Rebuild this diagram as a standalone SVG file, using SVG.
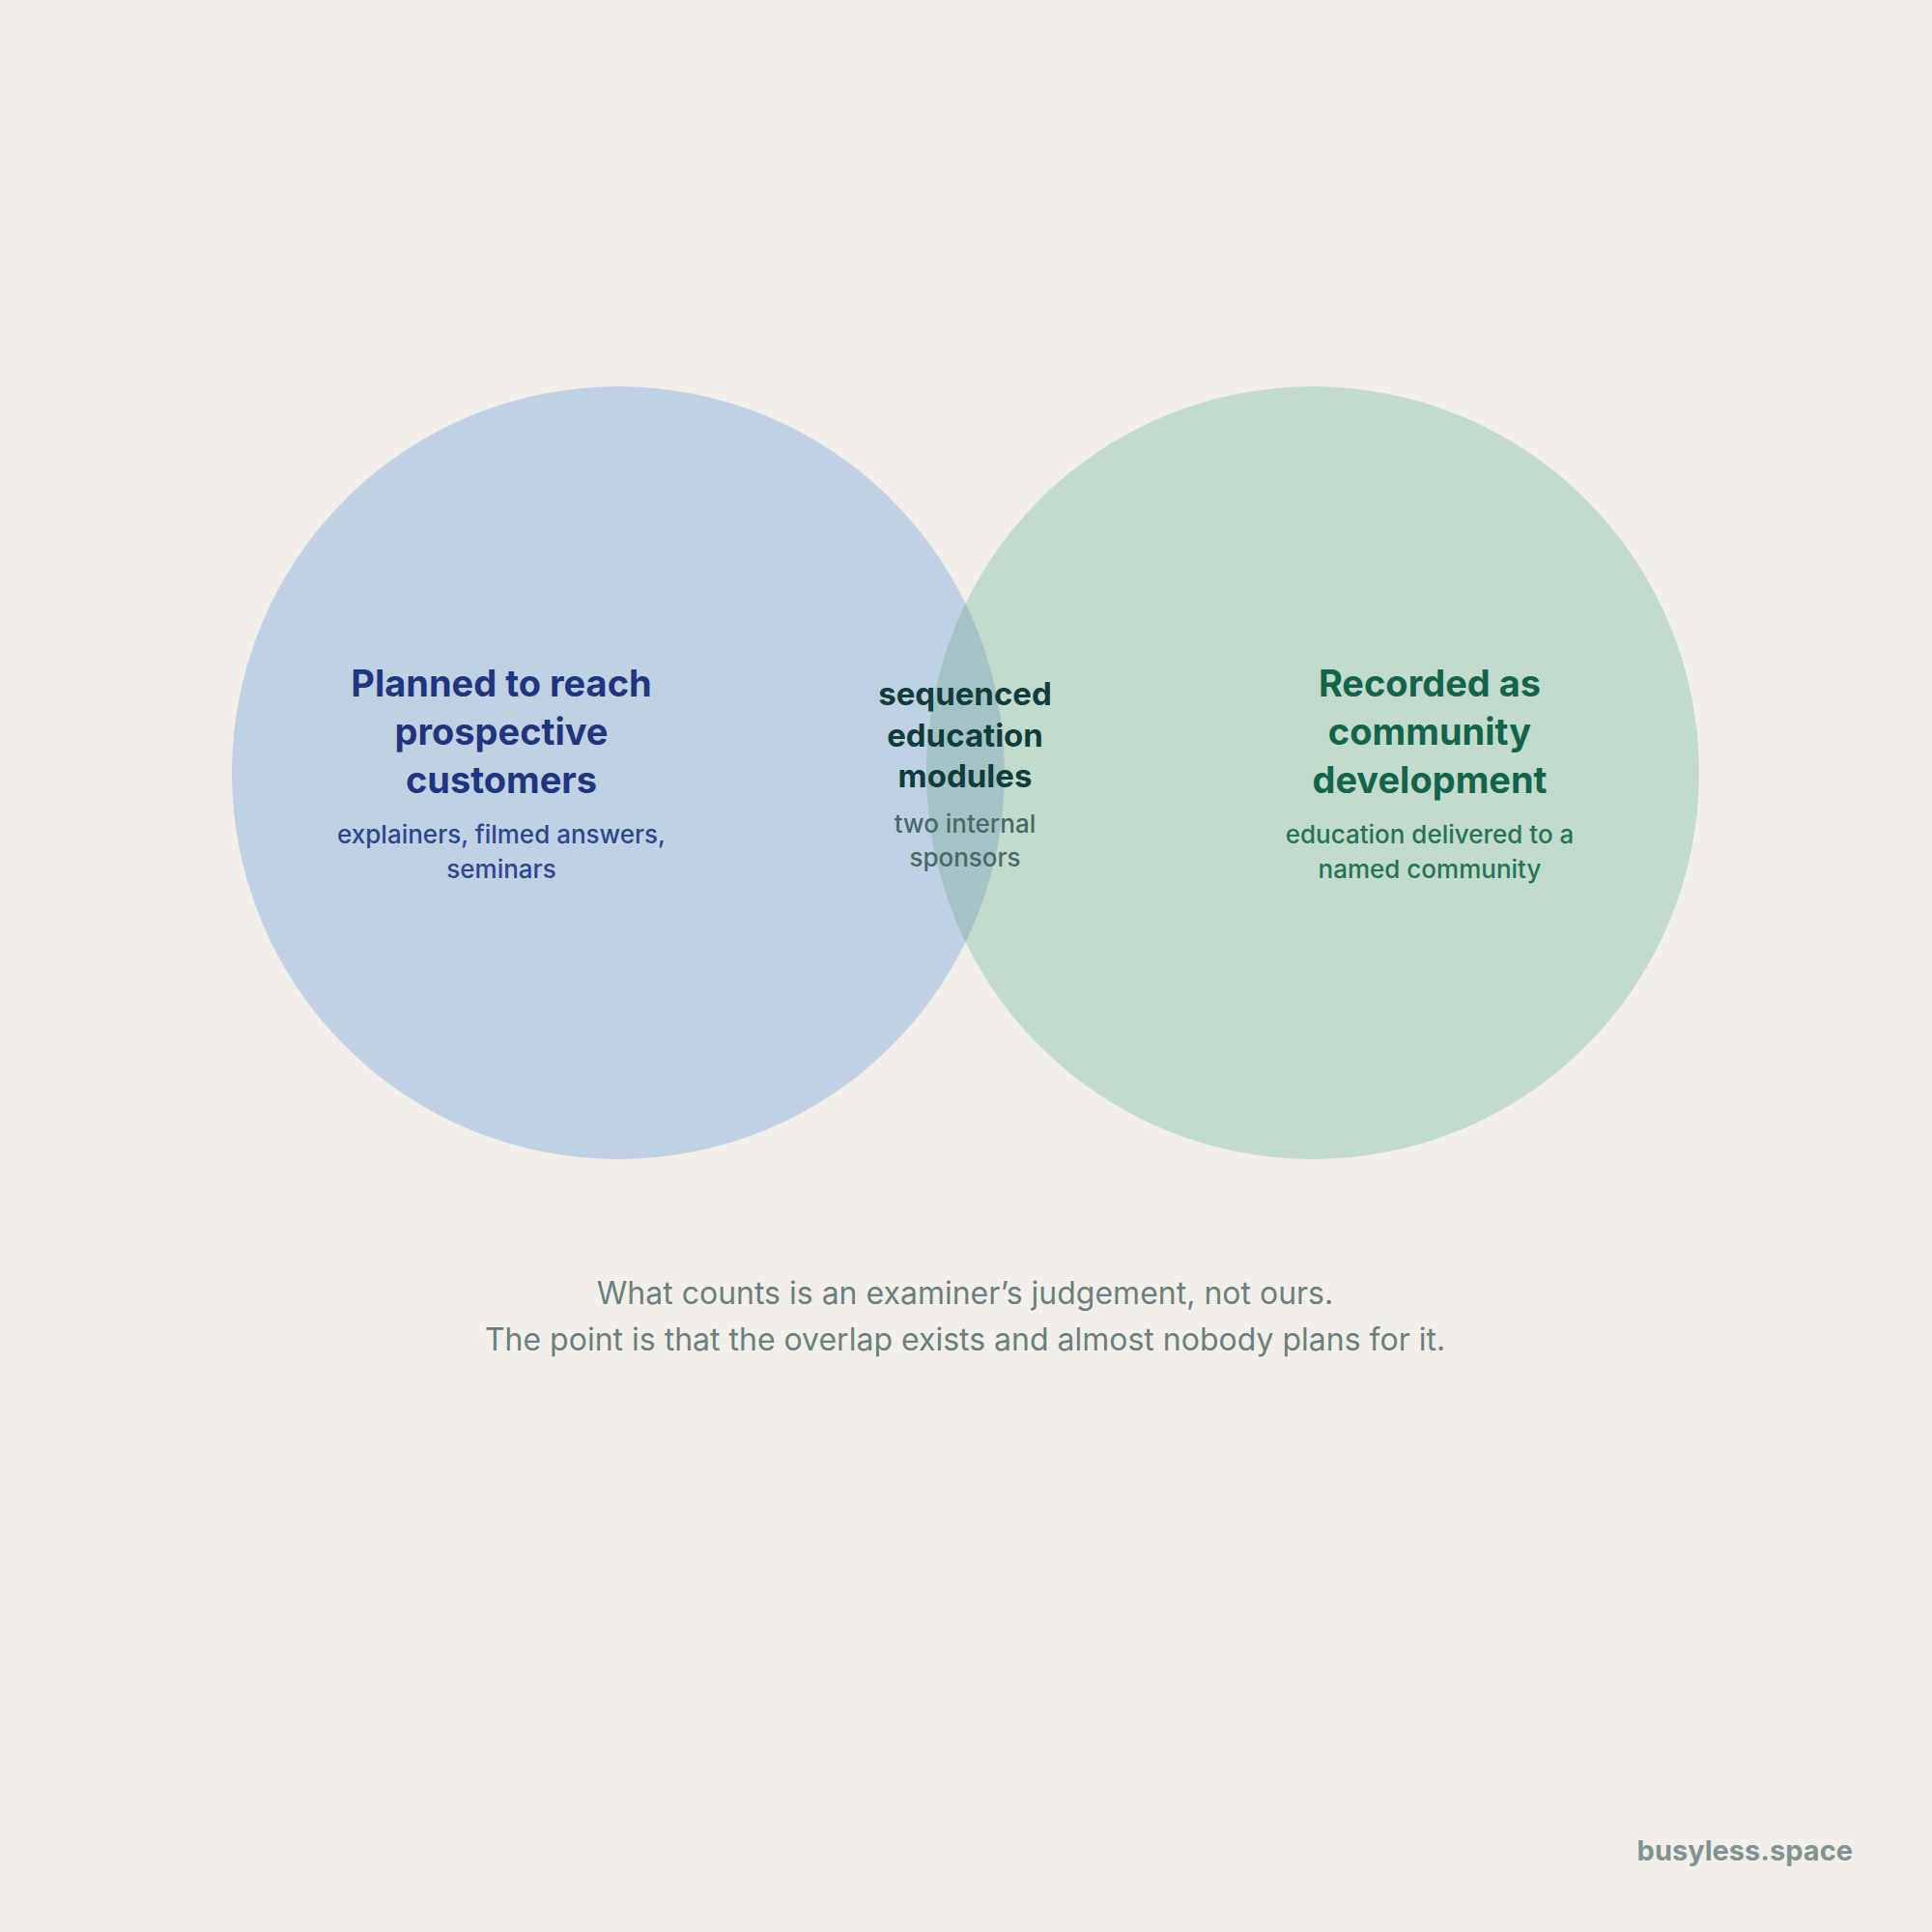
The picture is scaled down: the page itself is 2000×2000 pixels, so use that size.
<svg xmlns="http://www.w3.org/2000/svg" width="2000" height="2000" viewBox="0 0 2000 2000">
<style>
.t{font-family:Inter,"Noto Sans",sans-serif;text-anchor:middle}
.h{font-size:38px;font-weight:700}
.s{font-size:26px;font-weight:500}
</style>
<defs><clipPath id="cl"><circle cx="640" cy="800" r="400"/></clipPath></defs>
<rect width="2000" height="2000" fill="#f2efea"/>
<g id="left"><circle cx="640" cy="800" r="400" fill="#c1d1e4"/></g>
<g id="right"><circle cx="1359" cy="800" r="400" fill="#c3dbcc"/>
<circle cx="1359" cy="800" r="400" fill="#a5c3c6" clip-path="url(#cl)"/></g>
<g id="left-text" class="t" fill="#1f3580">
<text class="h" x="519" y="721">Planned to reach</text>
<text class="h" x="519" y="771">prospective</text>
<text class="h" x="519" y="821">customers</text>
<text class="s" x="519" y="873" fill="#2e4590">explainers, filmed answers,</text>
<text class="s" x="519" y="909" fill="#2e4590">seminars</text>
</g>
<g id="mid-text" class="t" fill="#0f3d3a">
<text class="h" x="999" y="730" style="font-size:33px">sequenced</text>
<text class="h" x="999" y="773" style="font-size:33px">education</text>
<text class="h" x="999" y="815" style="font-size:33px">modules</text>
<text class="s" x="999" y="862" fill="#4a6866">two internal</text>
<text class="s" x="999" y="897" fill="#4a6866">sponsors</text>
</g>
<g id="right-text" class="t" fill="#12654a">
<text class="h" x="1480" y="721">Recorded as</text>
<text class="h" x="1480" y="771">community</text>
<text class="h" x="1480" y="821">development</text>
<text class="s" x="1480" y="873" fill="#237555">education delivered to a</text>
<text class="s" x="1480" y="909" fill="#237555">named community</text>
</g>
<g id="caption" class="t" fill="#6b7f7c" style="font-size:32px">
<text x="999" y="1350">What counts is an examiner’s judgement, not ours.</text>
<text x="999" y="1398">The point is that the overlap exists and almost nobody plans for it.</text>
</g>
<text x="1918" y="1926" style="font-family:Inter,'Noto Sans',sans-serif;font-size:29px;font-weight:700;text-anchor:end" fill="#7f9490">busyless.space</text>
</svg>
